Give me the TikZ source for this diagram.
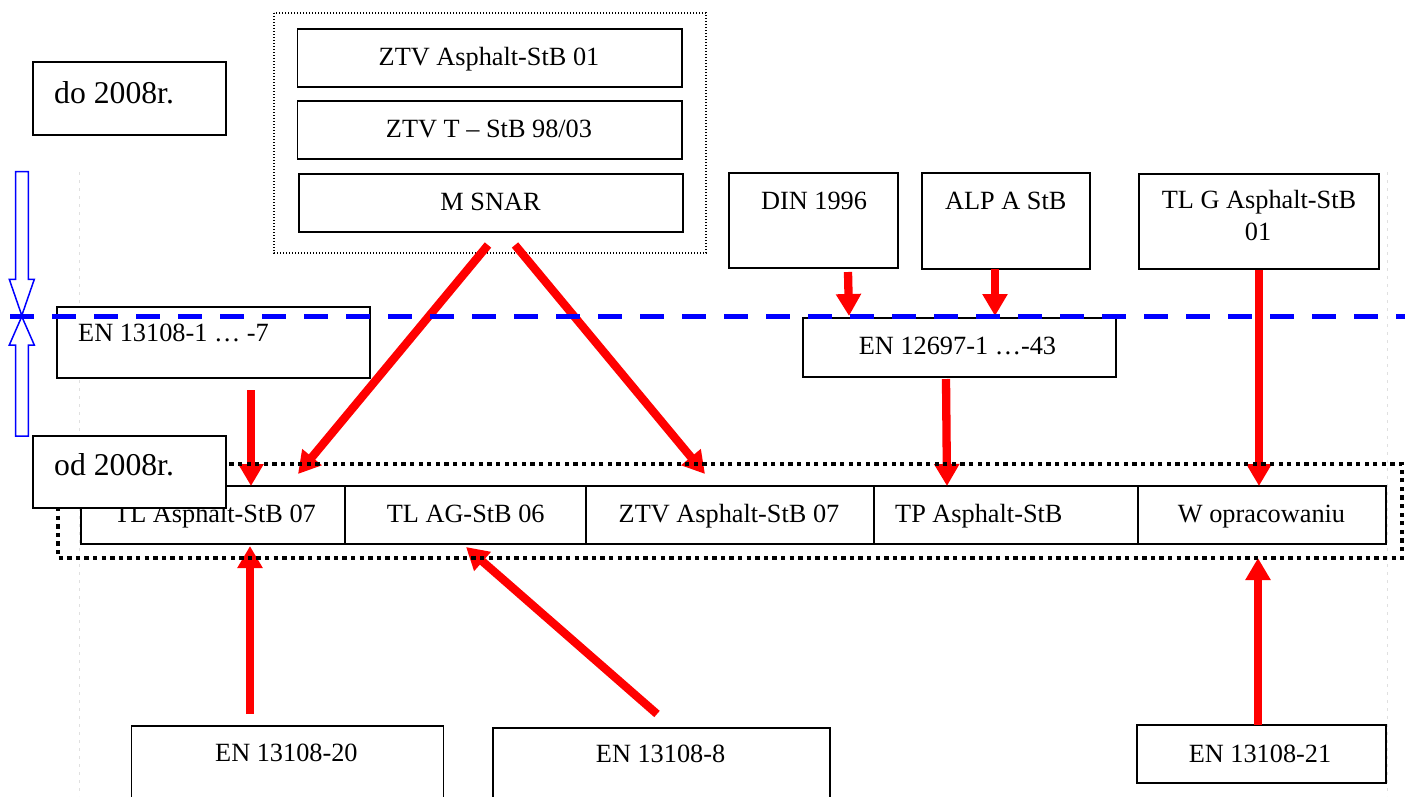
\documentclass[tikz,border=0pt]{standalone}
\usepackage{fontspec}
\setmainfont{Liberation Serif}
\usetikzlibrary{arrows.meta}
\tikzset{
  box/.style={draw=black, line width=1.8pt, fill=white, inner sep=0pt},
  txt/.style={inner sep=0pt, font=\fontsize{26.3pt}{30pt}\selectfont, anchor=base},
  txtl/.style={txt, anchor=base west},
  bigtxt/.style={inner sep=0pt, font=\fontsize{31.7pt}{36pt}\selectfont, anchor=base west},
  redarrow/.style={draw=red, line width=8.3pt, -{Triangle[width=24pt,length=22pt]}},
  thindots/.style={draw=black, line width=1.3pt, dash pattern=on 1.4pt off 1.6pt},
  thickdots/.style={draw=black, line width=4.5pt, dash pattern=on 4.3pt off 4.3pt},
  faint/.style={draw=black!12, line width=0.8pt, dash pattern=on 3pt off 5pt},
  bluedash/.style={draw=blue, line width=5pt, dash pattern=on 24pt off 18pt},
  bluearrow/.style={draw=blue, line width=1.5pt, fill=white},
}
\begin{document}
\begin{tikzpicture}[x=1pt, y=-1pt]
\useasboundingbox (0,0) rectangle (1410,796);
\clip (0,0) rectangle (1410,796);

% faint margin guides
\draw[faint] (79,172) -- (79,796);
\draw[faint] (1387,172) -- (1387,796);

% top dotted group
\draw[thindots] (274,13) rectangle (706,253);
\node[box, minimum width=384.5pt, minimum height=58pt] (zas01) at (489.75,58) {};
\node[txt] (zas01t) at (489,65) {ZTV Asphalt-StB 01};
\node[box, minimum width=384.5pt, minimum height=58pt] (ztvt) at (489.75,130) {};
\node[txt] (ztvtt) at (489,137) {ZTV T – StB 98/03};
\node[box, minimum width=384pt, minimum height=58pt] (msnar) at (491,203) {};
\node[txt] (msnart) at (490.5,210) {M SNAR};

% do 2008r.
\node[box, minimum width=193pt, minimum height=73pt] (do) at (129.5,98.5) {};
\node[bigtxt] (dot) at (54,103) {do 2008r.};

% upper right boxes
\node[box, minimum width=169pt, minimum height=95pt] (din) at (813.5,220.5) {};
\node[txt] (dint) at (814,209) {DIN 1996};
\node[box, minimum width=168pt, minimum height=96pt] (alp) at (1006,221) {};
\node[txt] (alpt) at (1005.7,209) {ALP A StB};
\node[box, minimum width=240pt, minimum height=95pt] (tlg) at (1259,221.5) {};
\node[txt] (tlgt1) at (1259,208) {TL G Asphalt-StB};
\node[txt] (tlgt2) at (1258,240) {01};

% middle boxes
\node[box, minimum width=313pt, minimum height=71pt] (en1) at (213.5,342.5) {};
\node[txtl] (en1t) at (78,341) {EN 13108-1 … -7};
\node[box, minimum width=313pt, minimum height=59pt] (en12697) at (959.5,347.5) {};
\node[txt] (en12697t) at (957.5,354) {EN 12697-1 …-43};

% row of current standards
\node[box, minimum width=264pt, minimum height=58pt] (tla07) at (213,515) {};
\node[txt] (tla07t) at (215,522) {TL Asphalt-StB 07};
\node[box, minimum width=241pt, minimum height=58pt] (tlag) at (465.5,515) {};
\node[txt] (tlagt) at (465.7,522) {TL AG-StB 06};
\node[box, minimum width=288pt, minimum height=58pt] (ztv07) at (730,515) {};
\node[txt] (ztv07t) at (729,522) {ZTV Asphalt-StB 07};
\node[box, minimum width=264pt, minimum height=58pt] (tp) at (1006,515) {};
\node[txtl] (tpt) at (895,522) {TP Asphalt-StB};
\node[box, minimum width=248pt, minimum height=58pt] (wop) at (1262,515) {};
\node[txt] (wopt) at (1261.5,522) {W opracowaniu};

% bottom boxes
\node[box, minimum width=312pt, minimum height=104pt] (en20) at (287.5,778) {};
\node[txt] (en20t) at (286.4,761) {EN 13108-20};
\node[box, minimum width=337pt, minimum height=102pt] (en8) at (661.5,779) {};
\node[txt] (en8t) at (660.6,762.5) {EN 13108-8};
\node[box, minimum width=249pt, minimum height=58pt] (en21) at (1261.5,754) {};
\node[txt] (en21t) at (1260,762) {EN 13108-21};

% arrow end points
\coordinate (a1s) at (488,245);  \coordinate (a1e) at (298,474);
\coordinate (a2s) at (515,245);  \coordinate (a2e) at (705,474);
\coordinate (a3s) at (251,390);  \coordinate (a3e) at (251,486);
\coordinate (a4s) at (250,714);  \coordinate (a4e) at (250,546);
\coordinate (a5s) at (657,714);  \coordinate (a5e) at (466,547);
\coordinate (a6s) at (848,272);  \coordinate (a6e) at (849,316);
\coordinate (a7s) at (995,269);  \coordinate (a7e) at (995,316);
\coordinate (a8s) at (946,379);  \coordinate (a8e) at (947,486);
\coordinate (a9s) at (1259,270); \coordinate (a9e) at (1259,486);
\coordinate (a10s) at (1258,725); \coordinate (a10e) at (1258,558);

\draw[redarrow] (a1s) -- (a1e);
\draw[redarrow] (a2s) -- (a2e);
\draw[redarrow] (a3s) -- (a3e);
\draw[redarrow] (a4s) -- (a4e);
\draw[redarrow] (a5s) -- (a5e);
\draw[redarrow] (a6s) -- (a6e);
\draw[redarrow] (a7s) -- (a7e);
\draw[redarrow] (a8s) -- (a8e);
\draw[redarrow] (a9s) -- (a9e);
\draw[redarrow] (a10s) -- (a10e);

% thick dotted frame
\draw[thickdots] (58,464) rectangle (1402,558);

% od 2008r.
\node[box, minimum width=193pt, minimum height=72pt] (od) at (129.5,472) {};
\node[bigtxt] (odt) at (54,475) {od 2008r.};

% blue hollow arrows
\draw[bluearrow] (15.7,171.7) -- (28.3,171.7) -- (28.3,279.3) -- (34.3,279.3)
  -- (21.8,315.5) -- (9.3,279.3) -- (15.7,279.3) -- cycle;
\draw[bluearrow] (21.8,316.5) -- (34.3,345) -- (28.3,345) -- (28.3,436)
  -- (15.7,436) -- (15.7,345) -- (9.3,345) -- cycle;

% blue dashed line
\draw[bluedash] (10,316) -- (1405,316);
\end{tikzpicture}
\end{document}
